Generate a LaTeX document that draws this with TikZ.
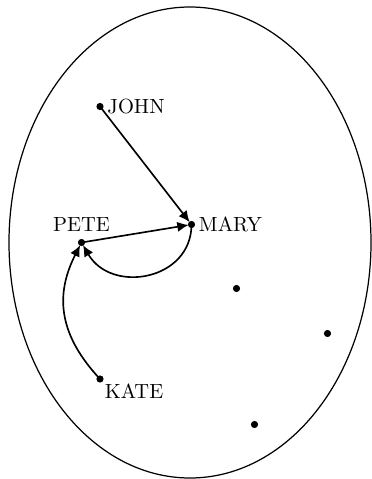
\documentclass[tikz,border=0pt]{standalone}
\usetikzlibrary{arrows.meta}
\begin{document}
\begin{tikzpicture}[x=0.4878pt,y=-0.4878pt,
  pt/.style={circle,fill=black,inner sep=0pt,minimum size=3.5pt},
  arr/.style={-{Latex[length=5.5pt,width=5pt]},line width=0.8pt,shorten >=-0.5pt},
  every label/.style={font=\normalsize,inner sep=1.5pt}]
\useasboundingbox (0,0) rectangle (372,479);
\draw[line width=0.6pt] (190,242.5) ellipse [x radius=181,y radius=235.5];
\node[pt,label={[label distance=0pt]right:JOHN}] (john) at (100,106.5) {};
\node[pt,label={[label distance=0pt]right:MARY}] (mary) at (191.5,224.5) {};
\node[pt,label={[label distance=1.5pt]above:PETE}] (pete) at (81.5,242.5) {};
\node[pt,label={[label distance=-1pt]below right:KATE}] (kate) at (100,379) {};
\node[pt] (d1) at (236.5,288.5) {};
\node[pt] (d2) at (327.5,333.5) {};
\node[pt] (d3) at (254.5,424.5) {};
\draw[arr] (john.center) -- (mary);
\draw[arr] (pete.center) -- (mary);
\draw[arr] (mary.center) to[out=-90,in=-60,looseness=1.3] (pete);
\draw[arr] (kate.center) to[out=133,in=-117,looseness=1.1] (pete);
\end{tikzpicture}
\end{document}
